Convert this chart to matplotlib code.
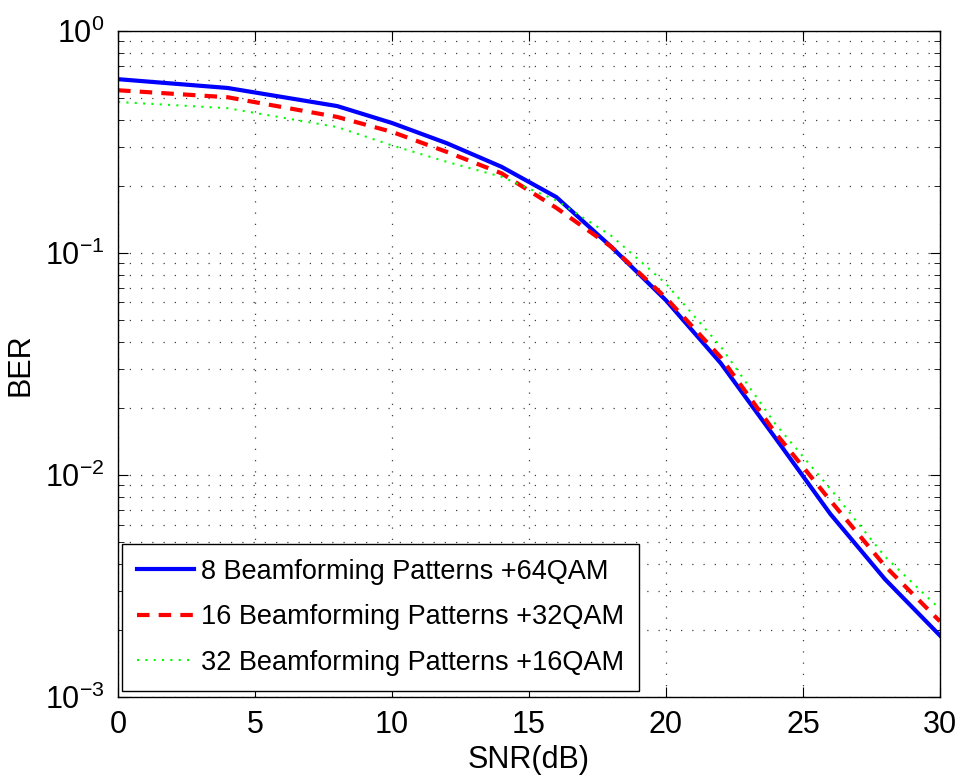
import matplotlib
matplotlib.use("Agg")
import matplotlib.pyplot as plt
from matplotlib.ticker import LogLocator, NullFormatter

plt.rcParams['font.family'] = ['Liberation Sans', 'DejaVu Sans']
plt.rcParams['mathtext.fontset'] = 'custom'
plt.rcParams['mathtext.rm'] = 'Liberation Sans'
plt.rcParams['mathtext.it'] = 'Liberation Sans:italic'
plt.rcParams['mathtext.bf'] = 'Liberation Sans:bold'

snr = [0, 4, 8, 10, 12, 14, 16, 18, 20, 22, 24, 26, 28, 30]
ber_8bp_64qam = [0.608, 0.555, 0.46, 0.386, 0.313, 0.245, 0.179, 0.107, 0.0614, 0.032, 0.0147, 0.0067, 0.0034, 0.00190]
ber_16bp_32qam = [0.542, 0.504, 0.411, 0.352, 0.286, 0.229, 0.16, 0.107, 0.063, 0.034, 0.0155, 0.0077, 0.0039, 0.0022]
ber_32bp_16qam = [0.48, 0.45, 0.37, 0.306, 0.258, 0.221, 0.173, 0.12, 0.073, 0.038, 0.017, 0.0087, 0.0043, 0.0025]
labels = ["8 Beamforming Patterns +64QAM",
          "16 Beamforming Patterns +32QAM",
          "32 Beamforming Patterns +16QAM"]

fig = plt.figure(figsize=(9.6, 7.8), dpi=100)
ax = fig.add_axes([0.123, 0.106, 0.856, 0.854])

ax.semilogy(snr, ber_8bp_64qam, color='#0000ff', lw=3.0, ls='-', label=labels[0])
ax.semilogy(snr, ber_16bp_32qam, color='#ff0000', lw=3.0, ls=(0, (3, 2.2)), label=labels[1])
ax.semilogy(snr, ber_32bp_16qam, color='#00ff00', lw=1.5, ls=(0, (1, 3)), label=labels[2])

ax.set_xlim(0, 30)
ax.set_ylim(1e-3, 1)
ax.set_xticks([0, 5, 10, 15, 20, 25, 30])
ax.yaxis.set_major_locator(LogLocator(base=10, numticks=10))
ax.yaxis.set_minor_locator(LogLocator(base=10, subs=range(2, 10), numticks=10))
ax.yaxis.set_minor_formatter(NullFormatter())

ax.grid(True, which='major', ls=(0, (1, 8)), color='black', lw=0.9, alpha=0.75)
ax.grid(True, which='minor', axis='y', ls=(0, (1, 8)), color='black', lw=0.9, alpha=0.75)

ax.tick_params(which='both', direction='in', top=True, right=True, labelsize=22)
ax.tick_params(axis='x', which='major', pad=9)
ax.tick_params(axis='y', which='major', pad=10)
ax.tick_params(which='major', length=7)
ax.tick_params(which='minor', length=4)
for s in ax.spines.values():
    s.set_linewidth(1.0)

ax.set_xlabel("SNR(dB)", fontsize=22, labelpad=4)
ax.set_ylabel("BER", fontsize=22)
ax.yaxis.set_label_coords(-0.101, 0.5)

leg = ax.legend(loc='lower left', fontsize=19.5, frameon=True, fancybox=False,
                edgecolor='black', framealpha=1, bbox_to_anchor=(0.005, 0.01),
                borderaxespad=0.0,
                handlelength=2.1, handletextpad=0.25, labelspacing=0.72, borderpad=0.55)
leg.get_frame().set_linewidth(1.0)

fig.savefig("out.png", dpi=100)
